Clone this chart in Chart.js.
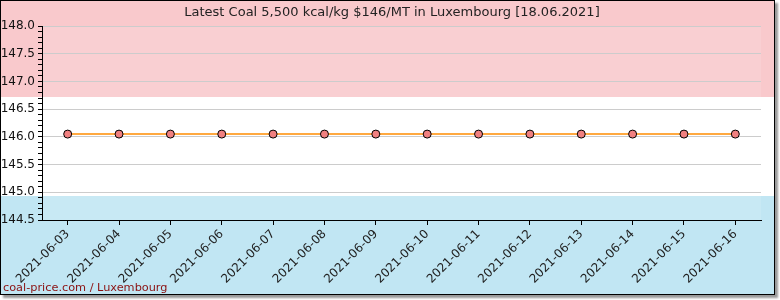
<!DOCTYPE html>
<html>
<head>
<meta charset="utf-8">
<script src="https://cdn.jsdelivr.net/npm/chart.js@4/dist/chart.umd.min.js"></script>
<style>
  body { margin: 0; background: #fff; }
  #wrap {
    position: absolute; left: 0; top: 0;
    width: 773px; height: 293px;
    border: 1px solid #000;
    box-shadow: 3px 3px 2px #999;
  }
  #chartCanvas { display: block; }
</style>
</head>
<body>
<div id="wrap"><canvas id="chartCanvas" width="773" height="293"></canvas></div>
<script>
const dates = ['2021-06-03', '2021-06-04', '2021-06-05', '2021-06-06', '2021-06-07', '2021-06-08', '2021-06-09',
               '2021-06-10', '2021-06-11', '2021-06-12', '2021-06-13', '2021-06-14', '2021-06-15', '2021-06-16'];
const prices = [146.05, 146.05, 146.05, 146.05, 146.05, 146.05, 146.05,
                146.05, 146.05, 146.05, 146.05, 146.05, 146.05, 146.05];
const yMin = 144.5;
const yMax = 148.0;
const titleText = 'Latest Coal 5,500 kcal/kg $146/MT in Luxembourg [18.06.2021]';
const footerText = 'coal-price.com / Luxembourg';

const isMajor = v => Math.abs(v * 2 - Math.round(v * 2)) < 1e-6;

// flag bands behind everything, title and footer text on top
const flagBg = {
    id: 'flagBg',
    beforeDraw(chart) {
        const c = chart.ctx, w = chart.width, h = chart.height;
        c.save();
        c.fillStyle = '#f9c9cc';
        c.fillRect(0, 0, w, 96);
        c.fillStyle = '#ffffff';
        c.fillRect(0, 96, w, 99);
        c.fillStyle = '#c1e6f3';
        c.fillRect(0, 195, w, h - 195);
        const a = chart.chartArea;
        c.fillStyle = 'rgba(255,255,255,0.12)';
        c.fillRect(a.left, a.top, a.right - a.left, a.bottom - a.top);
        c.restore();
    },
    afterDraw(chart) {
        const c = chart.ctx;
        c.save();
        c.font = '13px "DejaVu Sans"';
        c.fillStyle = '#222';
        c.textAlign = 'center';
        c.textBaseline = 'middle';
        c.fillText(titleText, 391, 12);
        c.font = '11.3px "DejaVu Sans"';
        c.fillStyle = '#8b1111';
        c.textAlign = 'left';
        c.textBaseline = 'alphabetic';
        c.fillText(footerText, 2, 290);
        c.restore();
    }
};

const ctx = document.getElementById('chartCanvas').getContext('2d');
window.myChart = new Chart(ctx, {
    type: 'line',
    data: {
        labels: dates,
        datasets: [{
            data: prices,
            borderColor: '#ff8c00',
            borderWidth: 1.5,
            pointRadius: 4,
            pointHoverRadius: 4,
            pointBackgroundColor: '#f08080',
            pointBorderColor: '#000',
            pointBorderWidth: 1,
            tension: 0
        }]
    },
    options: {
        responsive: false,
        animation: false,
        layout: { padding: { top: 25, right: 13 } },
        plugins: {
            legend: { display: false },
            tooltip: { enabled: false },
            title: { display: false }
        },
        scales: {
            x: {
                offset: true,
                grid: { drawOnChartArea: false, tickLength: 5, tickColor: '#000', offset: false },
                border: { color: '#000', width: 1 },
                ticks: {
                    color: '#222',
                    font: { family: 'DejaVu Sans', size: 12 },
                    minRotation: 45, maxRotation: 45,
                    autoSkip: false,
                    padding: 2
                },
                afterFit(scale) { scale.height = 74; }
            },
            y: {
                min: yMin, max: yMax,
                grid: {
                    color: c => isMajor(c.tick.value) ? '#cccccc' : 'rgba(0,0,0,0)',
                    tickColor: '#000',
                    tickLength: 4
                },
                border: { color: '#000', width: 1 },
                ticks: {
                    stepSize: 0.1,
                    autoSkip: false,
                    color: '#111',
                    font: { family: 'DejaVu Sans', size: 12 },
                    padding: 3,
                    callback: v => isMajor(v) ? v.toFixed(1) : ''
                },
                afterFit(scale) { scale.width = 41; }
            }
        }
    },
    plugins: [flagBg]
});
</script>
</body>
</html>
